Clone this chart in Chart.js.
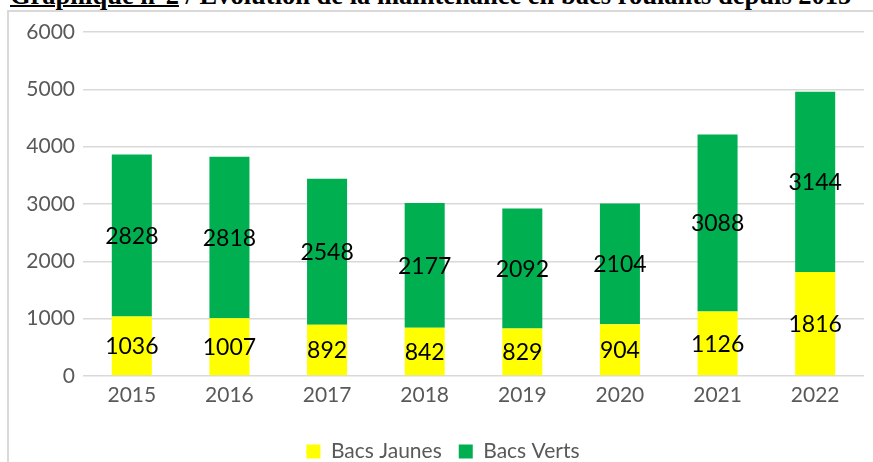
<!DOCTYPE html>
<html lang="fr">
<head>
<meta charset="utf-8">
<title>Evolution de la maintenance en bacs roulants</title>
<script src="https://cdn.jsdelivr.net/npm/chart.js@4.4.1/dist/chart.umd.min.js"></script>
<style>
  html, body { margin:0; padding:0; background:#fff; overflow:hidden; }
  body { width:873px; height:462px; position:relative; }
  #title {
    position:absolute; left:10px; top:-18px; white-space:nowrap;
    font-family:"Liberation Serif","Times New Roman",serif; font-weight:bold;
    font-size:26.5px; line-height:26.5px; color:#000;
  }
  #title u { text-decoration-thickness:2px; }
  #frame {
    position:absolute; left:7px; top:10px; width:900px; height:500px;
    border-left:2px solid #d9d9d9; border-top:2px solid #d9d9d9;
  }
  #wrap { position:absolute; left:0; top:0; width:873px; height:472px; }
</style>
</head>
<body>
<div id="title"><u>Graphique n°2</u> / Evolution de la maintenance en bacs roulants depuis 2015</div>
<div id="frame"></div>
<div id="wrap"><canvas id="chart" width="873" height="472"></canvas></div>
<script>
// --- data
const years = ['2015','2016','2017','2018','2019','2020','2021','2022'];
const bacsJaunes = [1036, 1007, 892, 842, 829, 904, 1126, 1816];
const bacsVerts  = [2828, 2818, 2548, 2177, 2092, 2104, 3088, 3144];
const yTicks = [0, 1000, 2000, 3000, 4000, 5000, 6000];

const GREY = '#595959';
const FONT = 'Lato, "Open Sans", sans-serif';

// values written in the middle of every segment
const segmentLabels = {
  id: 'segmentLabels',
  afterDatasetsDraw(chart){
    const c = chart.ctx;
    c.save();
    c.font = `23px ${FONT}`;
    c.fillStyle = '#000';
    c.textAlign = 'center';
    c.textBaseline = 'middle';
    chart.data.datasets.forEach((ds, i) => {
      chart.getDatasetMeta(i).data.forEach((bar, j) => {
        c.fillText(String(ds.data[j]), bar.x, (bar.y + bar.base) / 2 + 1);
      });
    });
    c.restore();
  }
};

// legend sits a little right of centre in the original
const nudgeLegend = {
  id: 'nudgeLegend',
  afterLayout(chart){
    if (!chart.legend) return;
    chart.legend.left += 11;
    chart.legend.right += 11;
  }
};

new Chart(document.getElementById('chart'), {
  type: 'bar',
  data: {
    labels: years,
    datasets: [
      { label: 'Bacs Jaunes', data: bacsJaunes, backgroundColor: '#FFFF00' },
      { label: 'Bacs Verts',  data: bacsVerts,  backgroundColor: '#00B050' }
    ]
  },
  options: {
    responsive: false,
    animation: false,
    devicePixelRatio: 1,
    layout: { padding: { left: 0, right: 9, top: 32, bottom: 0 } },
    datasets: { bar: { barPercentage: 0.41, categoryPercentage: 1 } },
    scales: {
      x: {
        stacked: true,
        grid: { display: false },
        border: { display: false },
        ticks: { color: GREY, font: { family: FONT, size: 21 }, padding: -1 },
        afterFit(s){ s.height = 48; }
      },
      y: {
        stacked: true,
        min: 0, max: 6000,
        afterBuildTicks(s){ s.ticks = yTicks.map(v => ({ value: v })); },
        grid: { color: '#d9d9d9', lineWidth: 1.5, drawTicks: false },
        border: { display: false },
        ticks: {
          color: GREY, font: { family: FONT, size: 21 }, padding: 8,
          callback: v => String(v)
        },
        afterFit(s){ s.width = 83; }
      }
    },
    plugins: {
      legend: {
        position: 'bottom',
        labels: {
          boxWidth: 14, boxHeight: 14, padding: 17,
          color: GREY, font: { family: FONT, size: 21, lineHeight: 1 }
        }
      },
      tooltip: { enabled: false }
    }
  },
  plugins: [segmentLabels, nudgeLegend]
});
</script>
</body>
</html>
